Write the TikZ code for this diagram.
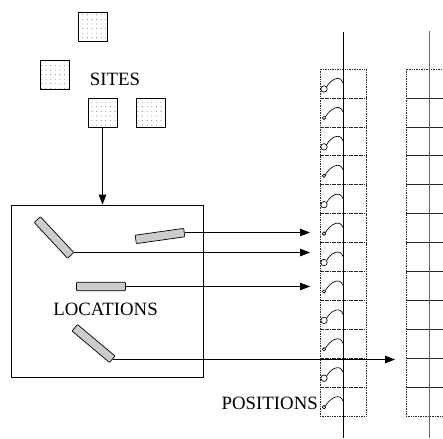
\documentclass[tikz,border=0pt]{standalone}
\usepackage{fontspec}
\setmainfont{Liberation Serif}
\usetikzlibrary{arrows.meta,patterns.meta}
\tikzset{
  site/.style={draw, line width=0.7pt, minimum size=29pt, inner sep=0pt,
    pattern={Dots[distance=4.6pt, radius=0.4pt]}, pattern color=black!75},
  bar/.style={draw, line width=0.7pt, fill=gray!40, minimum width=49pt,
    minimum height=8.5pt, inner sep=0pt, rounded corners=0.8pt},
  lbl/.style={inner sep=0pt, font=\fontsize{18.8}{22}\selectfont},
  cell/.style={dash pattern=on 0.6pt off 1.1pt, line width=0.55pt, black!85},
  hook/.style={line width=0.65pt},
  feed/.style={line width=0.8pt, -{Triangle[length=10pt, width=7.5pt]}}
}
\begin{document}
\begin{tikzpicture}[x=1pt, y=-1pt]
\useasboundingbox (0,0) rectangle (443,438);
% sites
\node[site] (s1) at (92.5,26.5) {};
\node[site] (s2) at (54.5,74.5) {};
\node[site] (s3) at (102.5,113) {};
\node[site] (s4) at (150.5,113) {};
\node[lbl] (sites) at (115,79) {SITES};
% locations
\node[draw, line width=0.7pt, minimum width=192pt, minimum height=172pt] (frame) at (107,291) {};
\draw[feed] (s3.south) -- (s3.south |- frame.north);
\node[bar, rotate=-47] (l1) at (54,237.5) {};
\node[bar, rotate=8] (l2) at (160,236) {};
\node[bar] (l3) at (101,286.5) {};
\node[bar, rotate=-40] (l4) at (93.5,343.5) {};
\node[lbl] (locs) at (105.5,309) {LOCATIONS};
% positions
\coordinate (t1) at (310,0);
\coordinate (t4) at (395,0);
\foreach \i in {0,...,11} {
  \pgfmathsetmacro{\celltop}{69+28.92*\i}
  \draw[cell] (320,\celltop) rectangle (366,\celltop+28.92);
  \draw[cell] (445,\celltop) -| (406,\celltop+28.92) -- (445,\celltop+28.92);
  \pgfmathsetmacro{\rad}{isodd(\i) ? 1.7 : 3.2}
  \draw[hook] (324,\celltop+20) circle[radius=\rad];
  \draw[hook] (324+\rad*0.8,\celltop+20-\rad*0.6) .. controls (330,\celltop+11) and (340,\celltop+5) .. (343,\celltop+14);
}
\draw[line width=0.9pt] (343,32) -- (343,438);
\draw[line width=0.9pt, black!60] (429,31) -- (429,438);
\draw[feed] (l2.east) -- (l2.east -| t1);
\draw[feed] (l1.north east) -- (l1.north east -| t1);
\draw[feed] (l3.east) -- (l3.east -| t1);
\draw[feed] (l4.east) -- (l4.east -| t4);
\node[lbl, anchor=east] (pos) at (318,403) {POSITIONS};
\end{tikzpicture}
\end{document}
